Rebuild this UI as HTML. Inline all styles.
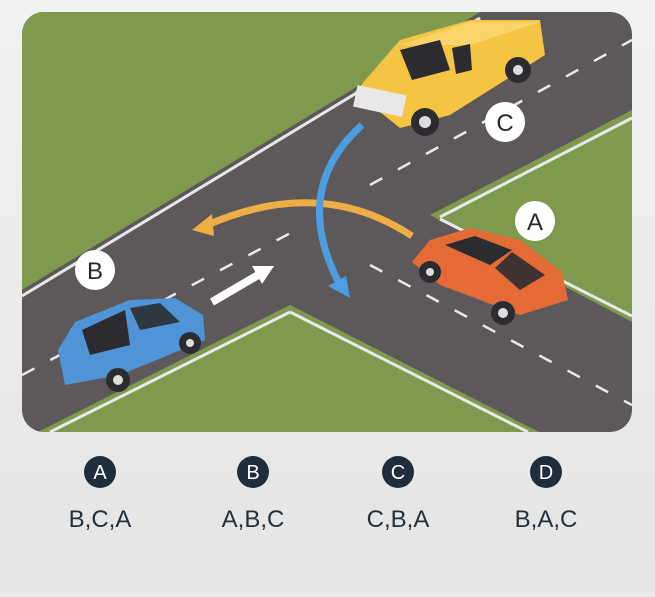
<!DOCTYPE html>
<html><head><meta charset="utf-8"><style>
html,body{margin:0;padding:0;background:#ebebeb;}
body{width:655px;height:592px;overflow:hidden;font-family:"Liberation Sans",sans-serif;}
</style></head><body>
<svg width="655" height="592" viewBox="0 0 655 592" xmlns="http://www.w3.org/2000/svg">
<defs>
<clipPath id="c"><rect x="22" y="12" width="610" height="420" rx="22"/></clipPath>
<linearGradient id="bg" x1="0" y1="0" x2="0" y2="1"><stop offset="0" stop-color="#f2f2f2"/><stop offset="1" stop-color="#e4e4e4"/></linearGradient>
</defs>
<rect width="655" height="592" fill="url(#bg)"/>
<g clip-path="url(#c)">
<rect x="22" y="12" width="610" height="420" fill="#5d595b"/>
<!-- grass -->
<polygon points="22,12 480,12 22,290" fill="#7f9a4f"/>
<polygon points="430,215 632,110 632,322" fill="#7f9a4f"/>
<polygon points="290,305 38,432 539,432" fill="#7f9a4f"/>
<!-- edge lines -->
<g stroke="#e8e8e8" stroke-width="3" fill="none">
<polyline points="22,296 480,18"/>
<polyline points="440,217 632,118"/>
<polyline points="440,219 632,316"/>
<polyline points="290,312 50,432"/>
<polyline points="290,312 528,432"/>
</g>
<!-- center dashes -->
<g stroke="#e8e8e8" stroke-width="2.5" stroke-dasharray="14 18" fill="none">
<line x1="22" y1="375" x2="300" y2="228"/>
<line x1="370" y1="185" x2="632" y2="40"/>
<line x1="370" y1="265" x2="632" y2="405"/>
</g>
<!-- arrows -->
<path d="M412,236 Q320,175 205,226" stroke="#eeae46" stroke-width="7" fill="none"/>
<polygon points="192,230 212,214 214,236" fill="#eeae46"/>
<path d="M362,125 Q290,190 340,285" stroke="#4c9ee0" stroke-width="7" fill="none"/>
<polygon points="350,298 328,286 346,276" fill="#4c9ee0"/>
<line x1="212" y1="302" x2="260" y2="274" stroke="#fff" stroke-width="8"/>
<polygon points="274,266 252,266 262,284" fill="#fff"/>
<!-- truck C -->
<g>
<polygon points="355,92 400,40 470,20 540,20 545,55 450,115 400,128" fill="#f5c443"/>
<polygon points="400,45 470,22 540,22 470,45" fill="#f8d46a"/>
<polygon points="400,50 440,40 450,70 412,80" fill="#2c2c30"/>
<polygon points="452,48 470,44 472,70 456,74" fill="#2c2c30"/>
<rect x="355" y="90" width="50" height="22" fill="#e8e8e8" transform="rotate(12 380 100)"/>
<circle cx="425" cy="122" r="14" fill="#2c2c30"/><circle cx="425" cy="122" r="6" fill="#ddd"/>
<circle cx="518" cy="70" r="13" fill="#2c2c30"/><circle cx="518" cy="70" r="5" fill="#ddd"/>
</g>
<!-- car A -->
<g>
<polygon points="412,262 430,240 470,228 520,240 562,272 568,300 520,315 440,285" fill="#e46a36"/>
<polygon points="445,245 475,236 512,250 490,265" fill="#2c2c30"/>
<polygon points="512,252 545,275 520,290 495,268" fill="#2c2c30" opacity=".9"/>
<circle cx="430" cy="272" r="11" fill="#2c2c30"/><circle cx="430" cy="272" r="4" fill="#ddd"/>
<circle cx="503" cy="313" r="12" fill="#2c2c30"/><circle cx="503" cy="313" r="5" fill="#ddd"/>
</g>
<!-- car B -->
<g>
<polygon points="58,350 75,322 130,300 175,298 203,315 205,340 120,375 65,385" fill="#4e94d6"/>
<polygon points="82,330 125,310 130,345 90,355" fill="#2c2c30"/>
<polygon points="130,308 160,303 180,322 140,330" fill="#2c2c30" opacity=".9"/>
<circle cx="118" cy="380" r="12" fill="#2c2c30"/><circle cx="118" cy="380" r="5" fill="#ddd"/>
<circle cx="190" cy="343" r="11" fill="#2c2c30"/><circle cx="190" cy="343" r="4" fill="#ddd"/>
</g>
<!-- labels -->
<g font-size="24" fill="#2a2a2a" text-anchor="middle" font-family="Liberation Sans">
<circle cx="505" cy="122" r="20" fill="#fff"/><text x="505" y="131">C</text>
<circle cx="535" cy="221" r="20" fill="#fff"/><text x="535" y="230">A</text>
<circle cx="95" cy="270" r="20" fill="#fff"/><text x="95" y="279">B</text>
</g>
</g>
<!-- options -->
<g font-family="Liberation Sans" text-anchor="middle">
<g fill="#1f2d3d">
<circle cx="100" cy="472" r="16"/><circle cx="253" cy="472" r="16"/><circle cx="398" cy="472" r="16"/><circle cx="546" cy="472" r="16"/>
</g>
<g fill="#fff" font-size="20">
<text x="100" y="479">A</text><text x="253" y="479">B</text><text x="398" y="479">C</text><text x="546" y="479">D</text>
</g>
<g fill="#24303c" font-size="24">
<text x="100" y="527">B,C,A</text><text x="253" y="527">A,B,C</text><text x="398" y="527">C,B,A</text><text x="546" y="527">B,A,C</text>
</g>
</g>
</svg>
</body></html>
